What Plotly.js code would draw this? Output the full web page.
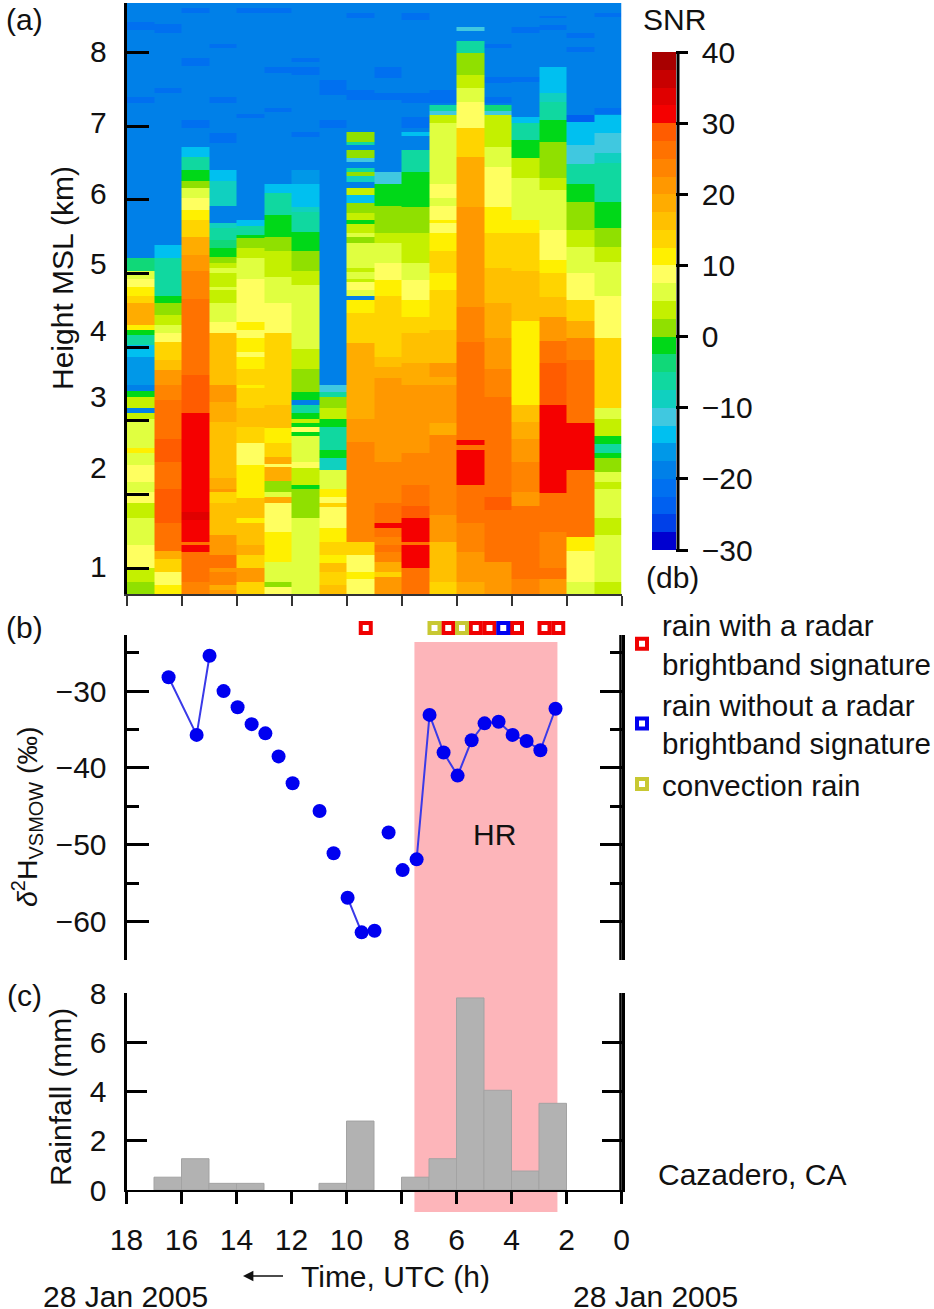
<!DOCTYPE html>
<html>
<head>
<meta charset="utf-8">
<script src="https://cdn.plot.ly/plotly-3.0.1.min.js"></script>
<style>html,body{margin:0;padding:0;background:#fff}</style>
</head>
<body>
<div id="chart"></div>
<script>
// panel (a): each radar column is a list of layer edges (km, top to bottom) and the SNR of each layer
var edges00=[8.67,8.41,8.30,7.39,7.31,5.21,5.04,4.93,4.81,4.70,4.60,4.30,4.23,4.16,4.03,3.86,3.48,3.41,3.32,3.17,3.10,3.03,2.90,2.63,2.56,2.40,2.17,2.03,1.89,1.68,1.54,1.31,1.00,0.81,0.65];
var snr00=[-20,-22,-20,-22,-20,-4,6,8.5,11,14,19,11,-1,-6,-13,-16,-18,-2,3,-18,3,5,7,11,7,8.5,6,8,4,5,7,8.5,3,1];
var edges01=[8.67,8.39,8.26,7.51,7.45,5.38,5.21,4.70,4.60,4.43,4.30,4.19,4.07,3.82,3.69,3.48,3.28,2.97,2.87,2.76,2.44,2.08,1.81,1.62,1.35,1.24,1.13,0.95,0.77,0.65];
var snr01=[-20,-22,-20,-22,-20,-14,-6,-2,1,3,6,8.5,13,16,21,23,25,27,26,28,26,28,29,25,27,19,13,9,12];
var edges02=[8.67,8.60,8.53,7.93,7.82,7.08,6.98,6.71,6.58,6.40,6.26,6.16,6.03,5.86,5.72,5.49,5.25,5.04,4.66,4.19,3.62,3.10,1.76,1.65,1.35,1.31,1.22,1.07,0.81,0.65];
var snr02=[-20,-22,-20,-22,-20,-22,-20,-13,-7,-2,1,5,8,11,14,19,21,23,25,27,28,31,34,31,25,32,27,25,24];
var edges03=[8.67,8.12,8.06,7.39,7.31,6.90,6.77,6.40,6.26,5.92,5.68,5.61,5.45,5.34,5.22,5.14,5.07,5.00,4.81,4.77,4.60,4.34,4.19,3.82,3.48,3.25,2.98,2.22,2.08,2.03,1.89,1.68,1.45,1.18,1.00,0.95,0.77,0.70,0.65];
var snr03=[-20,-22,-20,-22,-20,-22,-20,-13,-8,-19,-10,-7,-5,-1,2,3,6,4,6,3,6,9,15,17,20,19,16,19,21,13,15,17,22,25,20,24,18,22];
var edges04=[8.67,8.60,8.53,7.17,7.11,5.72,5.65,5.52,5.48,5.34,5.21,4.93,4.64,4.34,4.23,4.12,3.93,3.86,3.71,3.48,3.44,3.18,2.91,2.70,2.40,2.22,1.95,1.68,1.61,1.31,1.18,1.00,0.81,0.65];
var snr04=[-20,-22,-20,-22,-20,-13,-7,-2,2,4,6,8.5,9,11.5,9,11,8.5,11,13,11,14,15,13,8.5,11,12,15,11,17,19,13,20,14];
var edges05=[8.67,8.60,8.53,7.80,7.72,7.25,7.19,6.22,6.09,5.79,5.49,5.31,4.95,4.70,4.60,4.19,3.48,3.21,2.90,2.70,2.51,2.42,2.37,2.19,2.03,1.96,1.89,1.62,1.49,1.08,0.81,0.74,0.65];
var snr05=[-20,-22,-20,-22,-20,-22,-20,-13,-7,-2,0.5,3,6,7,8.5,13,14,15,12,13,19,9,18,2,7,19,8,8.5,11.5,7,1,8];
var edges06=[8.67,7.93,7.87,7.80,7.69,6.92,6.85,6.40,6.22,5.90,5.83,5.56,5.31,5.04,4.84,3.98,3.71,3.55,3.39,3.28,3.21,3.10,3.03,2.97,2.91,2.85,2.80,2.44,2.36,2.13,2.08,1.68,1.49,1.31,0.65];
var snr06=[-20,-22,-20,-22,-20,-22,-20,-17,-13,-9,-7,-2,1,4,6,4,1,0,-2,-18,-6,-1,3,-2,8,-2,6,8,4,-2,1.5,5,6,7];
var edges07=[8.67,7.62,7.42,7.08,6.98,3.48,3.39,3.32,3.17,3.03,2.91,2.60,2.49,2.33,2.08,1.96,1.89,1.83,1.68,1.54,1.35,1.18,1.07,0.95,0.77,0.65];
var snr07=[-20,-22,-20,-22,-20,-12,-6,1,3,-2,-7,-2,-9,5,12,8,14,9,8.5,11.5,14,11,16,13,16];
var edges08=[8.67,8.53,8.46,7.49,7.35,6.92,6.78,6.74,6.67,6.56,6.51,6.43,6.37,6.32,6.24,6.16,6.07,5.95,5.88,5.82,5.72,5.67,5.55,5.49,5.42,5.08,5.02,4.93,4.88,4.77,4.70,4.64,4.46,4.05,3.03,2.71,2.40,1.35,1.18,0.95,0.86,0.77,0.65];
var snr08=[-20,-22,-20,-22,-20,0,-6,-19,1.5,-12,-18,-7,2,-9,-19,4,-15,1,0,3,-1,4,7,1,6,3,6,3,8,5,-18,10,14,19,21,23,24,14,8.5,11,8,9];
var edges09=[8.67,7.80,7.65,7.45,7.35,6.37,6.22,5.92,5.72,5.55,5.41,5.25,5.14,4.91,4.70,4.46,3.86,3.73,3.58,3.03,2.44,1.89,1.62,1.54,1.42,1.31,1.22,1.08,0.95,0.88,0.65];
var snr09=[-20,-22,-20,-22,-20,-12,-2,0.5,2,4,6,7,8.5,11,13,14,15,18,20,22,24,25,32,26,24,27,24,18,14,22];
var edges10=[8.67,8.53,8.44,7.45,7.31,7.12,6.98,6.92,6.86,6.67,6.37,5.90,5.82,5.55,5.31,5.14,4.91,4.64,4.41,4.19,3.78,3.48,2.90,2.56,2.13,1.85,1.68,1.35,1.31,1.00,0.65];
var snr10=[-20,-22,-20,-22,-20,-22,-20,-13,-19,-7,-2,0,1.5,3,4,6,8.5,11,14,15,18,20,22,24,27,28,31,26,31,27];
var edges11=[8.67,7.49,7.31,7.28,7.21,7.15,7.04,6.44,6.22,6.02,5.92,5.72,5.68,5.55,5.31,5.00,4.77,4.23,3.78,3.69,3.59,3.48,2.97,2.81,1.72,1.35,1.13,0.81,0.65];
var snr11=[-20,-22,-20,-6,-12,3,5,6,8,7,9,11.5,9,12,13,12,14,17,20,22,19,22,18,23,21,17,15,13];
var edges12=[8.67,8.35,8.29,8.16,7.99,7.85,7.69,7.51,7.32,6.98,6.58,5.90,5.27,4.54,4.07,3.48,3.25,2.74,2.67,2.60,2.13,1.62,1.22,1.00,0.81,0.65];
var snr12=[-20,-12,-20,-6,0,2,4,6,8.5,14,18,20,21.5,24,26,25,27,31,27,31,27,24,22,21,18];
var edges13=[8.67,8.12,8.06,7.66,7.58,7.39,7.31,7.28,7.21,7.15,6.71,6.44,5.90,5.55,5.08,4.60,4.13,3.71,3.32,3.03,2.26,1.96,1.79,1.08,0.86,0.65];
var snr13=[-20,-22,-20,-22,-20,-22,-20,-3,-12,4,6,9,12,14,16,18,20,23,25,27,25,28,25,22,21];
var edges14=[8.67,8.34,8.26,7.66,7.60,7.12,7.04,6.81,6.56,6.29,5.95,5.72,5.55,5.04,4.36,3.21,2.98,2.76,2.44,2.03,1.85,0.95,0.86,0.65];
var snr14=[-20,-22,-20,-22,-20,-13,-7,-2,3,6,7,11,14,15,12,15,18,21,24,22,25,27,23];
var edges15=[8.67,8.50,8.46,8.37,8.30,7.80,7.45,7.32,7.08,6.78,6.63,6.30,6.13,5.86,5.59,5.18,5.00,4.68,4.41,4.09,3.78,3.21,2.02,1.88,1.49,1.00,0.86,0.65];
var snr15=[-20,-22,-20,-22,-20,-13,-10,-7,-2,0,2,4,5,6,8.5,11,13,17,22,25,28,31,27,25,24,25,22];
var edges16=[8.67,8.26,8.19,8.07,8.00,7.15,7.05,6.74,6.49,6.22,5.97,5.82,5.59,5.36,5.00,4.64,4.36,4.12,3.82,3.48,3.32,2.97,2.33,1.96,1.42,1.24,0.81,0.65];
var snr16=[-20,-22,-20,-22,-20,-24,-14,-11,-7,-2,1,2,4,6,8.5,14,18,24,27,25,27,31,27,25,12,8.5,6];
var edges17=[8.67,8.54,8.48,7.25,7.17,7.15,6.90,6.63,6.50,5.97,5.61,5.36,5.15,5.00,4.70,4.12,3.17,3.03,2.80,2.68,2.56,2.49,2.30,2.17,2.08,1.68,1.45,1.27,0.81,0.65];
var snr17=[-20,-22,-20,-22,-20,-14,-11,-10,-7,-2,1,3,5,7,9,14,7,4,-2,-7,-2,1,5,3,7,3,6,5,3];

var columnEdges=[edges00,edges01,edges02,edges03,edges04,edges05,edges06,edges07,edges08,edges09,edges10,edges11,edges12,edges13,edges14,edges15,edges16,edges17];
var columnSnr=[snr00,snr01,snr02,snr03,snr04,snr05,snr06,snr07,snr08,snr09,snr10,snr11,snr12,snr13,snr14,snr15,snr16,snr17];
var hourEdges=[18,17,16,15,14,13,12,11,10,9,8,7,6,5,4,3,2,1,0];

// SNR colour steps, 2.5 dB each, from -30 up to 40
var snrColors=['#0000d0','#0040e8','#0060f0','#0070f0','#0080e8','#0098e8','#00c0f0','#40c8e0','#10d0c0','#10d8a0','#10d878','#00d818','#90e000','#c4f000','#e0ff40','#ffff60','#fff000','#ffd400','#ffc000','#ffac00','#ff9800','#ff8400','#ff7200','#ff5c00','#f50000','#e00000','#c80000','#a80000'];
var snrTicks=[-30,-20,-10,0,10,20,30,40];
var snrTickText=['\u00a0\u221230','\u00a0\u221220','\u00a0\u221210','\u00a00','\u00a010','\u00a020','\u00a030','\u00a040'];

var heightTicks=[1,2,3,4,5,6,7,8];
var heightLabels=['1','2','3','4','5','6','7','8'];
var heightLabelPos=[1.03,2.36,3.33,4.23,5.14,6.09,7.05,8.01];

// panel (b): null splits the line where the samples are not joined
var isoHours=[16.47,15.45,14.98,null,14.47,null,13.96,null,13.45,null,12.95,null,12.47,null,11.96,null,10.98,null,10.47,null,9.96,9.45,8.98,null,8.47,null,7.96,null,7.45,6.98,6.47,5.96,5.45,4.98,4.47,3.96,3.45,2.95,2.40];
var isoDelta=[-28.2,-35.7,-25.4,null,-30,null,-32.1,null,-34.3,null,-35.5,null,-38.5,null,-42,null,-45.6,null,-51.1,null,-56.9,-61.4,-61.2,null,-48.4,null,-53.3,null,-51.9,-33.1,-38,-41,-36.4,-34.2,-34,-35.7,-36.5,-37.7,-32.3];
var rainBrightHours=[9.3,6.3,5.3,4.8,3.8,2.8,2.3];
var rainNoBrightHours=[4.3];
var rainConvHours=[6.8,5.8];
var hrStart=7.53, hrEnd=2.33;

// panel (c)
var rainHours=[16.5,15.5,14.5,13.5,10.5,9.5,7.5,6.5,5.5,4.5,3.5,2.5];
var rainMm=[0.52,1.27,0.27,0.27,0.27,2.8,0.52,1.27,7.8,4.05,0.77,3.52];

var W=934, H=1309;
var FONT='"Liberation Sans", Arial, sans-serif';
var INK='#111';
function fx(p){return p/W;}
function fy(p){return 1-p/H;}

var stepped=[];
snrColors.forEach(function(c,i){
	stepped.push([i/snrColors.length,c]);
	stepped.push([(i+1)/snrColors.length,c]);
});

// all columns on one shared set of layer edges
var gridEdges=[];
columnEdges.forEach(function(e){
	e.forEach(function(v){ if (gridEdges.indexOf(v)<0) gridEdges.push(v); });
});
gridEdges.sort(function(a,b){return a-b;});

function snrAt(k,h){
	var e=columnEdges[k];
	for (let j=0;j<e.length-1;j++) {
		if (h<=e[j] && h>=e[j+1]) return columnSnr[k][j];
	}
	return null;
}
var gridSnr=[];
for (let r=0;r<gridEdges.length-1;r++) {
	let mid=(gridEdges[r]+gridEdges[r+1])/2;
	gridSnr.push(columnEdges.map(function(e,k){return snrAt(k,mid);}));
}

var traces=[];
traces.push({
	type:'heatmap',x:hourEdges,y:gridEdges,z:gridSnr,
	coloraxis:'coloraxis',xaxis:'x',yaxis:'y',showlegend:false,hoverinfo:'skip'
});
traces.push({
	x:rainHours,y:rainMm,type:'bar',width:1,xaxis:'x3',yaxis:'y3',
	marker:{color:'#b2b2b2',line:{color:'#a3a3a3',width:1}},showlegend:false
});
traces.push({
	x:isoHours,y:isoDelta,mode:'lines+markers',xaxis:'x2',yaxis:'y2',connectgaps:false,
	line:{color:'#3a3ae8',width:2},marker:{color:'#0000f0',size:14},showlegend:false
});

function strip(hours,color,name){
	return {
		x:hours,y:hours.map(function(){return 0.5;}),mode:'markers',xaxis:'x2',yaxis:'y4',
		name:name,cliponaxis:false,
		marker:{symbol:'square',size:10,color:'#fff',line:{color:color,width:4}}
	};
}
traces.push(strip(rainBrightHours,'#f00000','rain with a radar<br>brightband signature'));
traces.push(strip(rainNoBrightHours,'#0000f0','rain without a radar<br>brightband signature'));
traces.push(strip(rainConvHours,'#c8c832','convection rain'));

function note(text,px,py,opts){
	return Object.assign({
		text:text,x:fx(px),y:fy(py),xref:'paper',yref:'paper',showarrow:false,
		xanchor:'center',yanchor:'middle',font:{family:FONT,size:30,color:INK}
	},opts||{});
}

var annotations=[
	note('(a)',24,20),note('(b)',24,628),note('(c)',24,995),
	note('Height MSL (km)',62,278,{textangle:-90}),
	note('<i>\u03b4</i><sup>2</sup>H<sub>VSMOW</sub> (\u2030)',27,817,{textangle:-90,font:{family:FONT,size:28.5,color:INK}}),
	note('Rainfall (mm)',60,1097,{textangle:-90}),
	note('HR',494,834),
	note('Cazadero, CA',752,1174),
	// the text carries the arrow: tip at the left, tail just short of the words
	note('Time, UTC (h)',243,1276,{showarrow:true,ax:152,ay:0,arrowhead:2,arrowsize:1.3,arrowwidth:1.6,arrowcolor:INK,startstandoff:16}),
	note('28 Jan 2005',125,1296),
	note('28 Jan 2005',655,1296),
	note('SNR',674,20),
	note('(db)',672,577)
];
heightLabels.forEach(function(t,i){
	annotations.push({
		text:t,x:fx(109),y:heightLabelPos[i],xref:'paper',yref:'y',showarrow:false,
		xanchor:'right',yanchor:'middle',font:{family:FONT,size:30,color:INK}
	});
});

var xDomain=[fx(126.5),fx(621.5)];
var spine={showline:true,linecolor:'#000',linewidth:3,showgrid:false,zeroline:false};

var layout={
	width:W,height:H,
	margin:{l:0,r:0,t:0,b:0,autoexpand:false},
	paper_bgcolor:'#fff',plot_bgcolor:'rgba(0,0,0,0)',
	font:{family:FONT,size:30,color:INK},
	bargap:0,
	coloraxis:{
		cmin:-30,cmax:40,colorscale:stepped,
		colorbar:{
			x:fx(652),xanchor:'left',xpad:0,thickness:24,
			y:fy(52),yanchor:'top',ypad:0,len:(550-52)/H,
			outlinewidth:0,
			tickmode:'array',tickvals:snrTicks,ticktext:snrTickText,
			ticks:'outside',ticklen:12,tickwidth:3,tickcolor:'#000',
			tickfont:{family:FONT,size:30,color:INK}
		}
	},
	xaxis:{domain:xDomain,range:[18,0],anchor:'y',tickmode:'linear',tick0:0,dtick:2,ticks:'outside',ticklen:10,tickwidth:2,tickcolor:'#333',showticklabels:false,showline:true,linecolor:'#333',linewidth:2,showgrid:false,zeroline:false},
	yaxis:Object.assign({},spine,{domain:[fy(594),fy(3)],range:[0.65,8.67],anchor:'x',tickmode:'array',tickvals:heightTicks,ticks:'inside',ticklen:22,tickwidth:3,tickcolor:'#000',showticklabels:false}),
	xaxis2:{domain:xDomain,range:[18,0],anchor:'y2',visible:false},
	yaxis2:Object.assign({},spine,{domain:[fy(960),fy(635)],range:[-65,-22.7],anchor:'x2',mirror:'ticks',tickmode:'array',tickvals:[-60,-50,-40,-30],ticktext:['\u221260','\u221250','\u221240','\u221230'],ticks:'inside',ticklen:22,tickwidth:3,tickcolor:'#000',ticklabelstandoff:11,minor:{tickmode:'array',tickvals:[-65,-55,-45,-35,-25],ticks:'inside',ticklen:12,tickwidth:3,tickcolor:'#000'}}),
	xaxis3:{domain:xDomain,range:[18,0],anchor:'y3',tickmode:'linear',tick0:0,dtick:2,ticks:'outside',ticklen:12,tickwidth:3,tickcolor:'#000',ticklabelstandoff:10,showline:true,linecolor:'#000',linewidth:2,showgrid:false,zeroline:false},
	yaxis3:Object.assign({},spine,{domain:[fy(1190),fy(993)],range:[0,8],anchor:'x3',mirror:'ticks',tickmode:'array',tickvals:[0,2,4,6,8],ticks:'inside',ticklen:20,tickwidth:3,tickcolor:'#000',ticklabelstandoff:11}),
	yaxis4:{domain:[fy(641),fy(615)],range:[0,1],anchor:'x2',visible:false},
	showlegend:true,
	legend:{x:fx(622),y:fy(599),xanchor:'left',yanchor:'top',bgcolor:'rgba(0,0,0,0)',font:{family:FONT,size:29.5,color:INK},itemclick:false},
	shapes:[
		{type:'rect',xref:'x3',yref:'paper',x0:hrStart,x1:hrEnd,y0:fy(1212),y1:fy(642),fillcolor:'#fdb5ba',line:{width:0},layer:'below'},
		{type:'line',xref:'paper',yref:'paper',x0:fx(678),x1:fx(678),y0:fy(550),y1:fy(52),line:{color:'#000',width:3}},
		{type:'line',xref:'paper',yref:'paper',x0:fx(620.5),x1:fx(620.5),y0:fy(960),y1:fy(635),line:{color:'#000',width:2.5}},
		{type:'line',xref:'paper',yref:'paper',x0:fx(620.5),x1:fx(620.5),y0:fy(1190),y1:fy(993),line:{color:'#000',width:2.5}}
	],
	annotations:annotations
};

Plotly.newPlot('chart',traces,layout,{displayModeBar:false,staticPlot:true});
</script>
</body>
</html>
